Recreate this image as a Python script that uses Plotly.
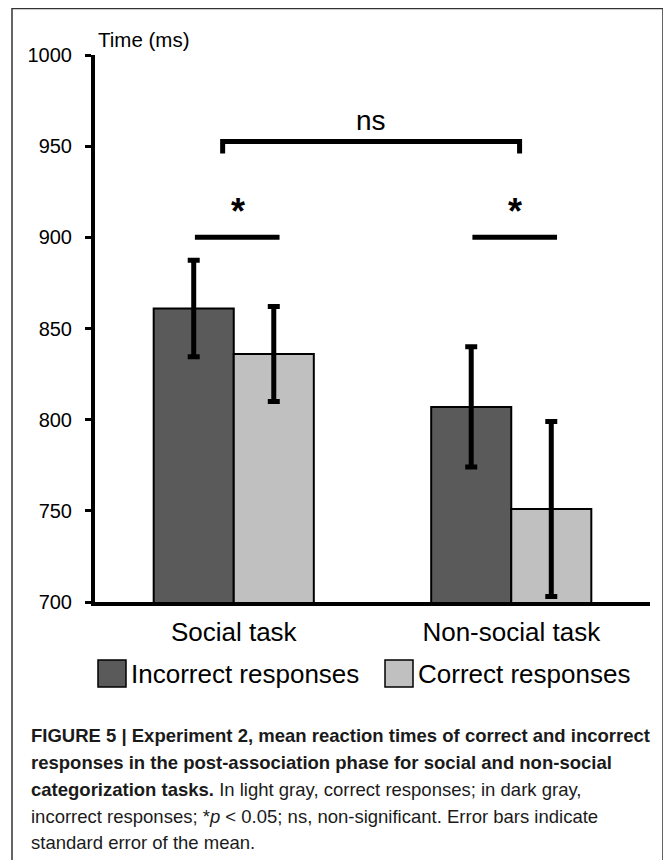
import plotly.graph_objects as go

# ---- data ----
categories = ["Social task", "Non-social task"]
series_names = ["Incorrect responses", "Correct responses"]
incorrect_means = [861, 807]
incorrect_sem = [26.5, 33]
correct_means = [836, 751]
correct_sem = [26, 48]
y_ticks = [700, 750, 800, 850, 900, 950, 1000]
y_title = "Time (ms)"
sig_pairs_labels = ["*", "*"]
ns_label = "ns"

caption_lines = [
    "<b>FIGURE 5 | Experiment 2, mean reaction times of correct and incorrect</b>",
    "<b>responses in the post-association phase for social and non-social</b>",
    "<b>categorization tasks.</b> In light gray, correct responses; in dark gray,",
    "incorrect responses; *<i>p</i> &lt; 0.05; ns, non-significant. Error bars indicate",
    "standard error of the mean.",
]

DARK = "#5a5a5a"
LIGHT = "#c0c0c0"

# page body has an 8px margin -> work in reference pixels and shift
OFF = 8
W, H = 671 - OFF, 860 - OFF
ML = 95 - OFF
MT = 55 - OFF
MR = W - (650 - OFF)
MB = H - (602 - OFF)
PW, PH = W - ML - MR, H - MT - MB


def px_x(px):
    return (px - OFF - ML) / PW


def px_y(py):
    return (H - MB - (py - OFF)) / PH


FONT = "Liberation Sans, Arial, sans-serif"

fig = go.Figure()
fig.add_trace(go.Bar(
    x=categories, y=incorrect_means, name=series_names[0],
    marker=dict(color=DARK, line=dict(color="black", width=2)),
    error_y=dict(type="data", array=incorrect_sem, color="black", thickness=5, width=6),
    showlegend=False,
))
fig.add_trace(go.Bar(
    x=categories, y=correct_means, name=series_names[1],
    marker=dict(color=LIGHT, line=dict(color="black", width=2)),
    error_y=dict(type="data", array=correct_sem, color="black", thickness=5, width=6),
    showlegend=False,
))

shapes = []
annotations = []

# significance lines (data coords: category index)
LINE_W = 5
for c in (0, 1):
    shapes.append(dict(type="line", xref="x", yref="y", x0=c - 0.14, x1=c + 0.165,
                       y0=900, y1=900, line=dict(color="black", width=LINE_W)))
    annotations.append(dict(x=c + 0.015, y=900, xref="x", yref="y", text="<b>%s</b>" % sig_pairs_labels[c],
                            showarrow=False, yanchor="bottom", yshift=3,
                            font=dict(family=FONT, size=36, color="black")))

# ns bracket
shapes.append(dict(type="path", xref="x", yref="y",
                   path="M -0.04,946 L -0.04,952.5 L 1.03,952.5 L 1.03,946",
                   line=dict(color="black", width=LINE_W)))
annotations.append(dict(x=0.495, y=952.5, xref="x", yref="y", text=ns_label, showarrow=False,
                        yanchor="bottom", yshift=4, font=dict(family=FONT, size=28, color="black")))

# y-axis title
annotations.append(dict(x=px_x(96), y=px_y(39), xref="paper", yref="paper", text=y_title,
                        showarrow=False, xanchor="left", yanchor="middle",
                        font=dict(family=FONT, size=20.5, color="black")))

# manual legend
leg_items = [(98, DARK, series_names[0]), (385, LIGHT, series_names[1])]
for x0, col, name in leg_items:
    shapes.append(dict(type="rect", xref="paper", yref="paper",
                       x0=px_x(x0), x1=px_x(x0 + 28), y0=px_y(660), y1=px_y(687),
                       fillcolor=col, line=dict(color="black", width=1.5)))
    annotations.append(dict(x=px_x(x0 + 31), y=px_y(674), xref="paper", yref="paper", text=name,
                            showarrow=False, xanchor="left", yanchor="middle",
                            font=dict(family=FONT, size=26, color="black")))

# caption
cap_y = [735, 762, 789, 816, 843]
for line, yy in zip(caption_lines, cap_y):
    annotations.append(dict(x=px_x(29), y=px_y(yy), xref="paper", yref="paper", text=line,
                            showarrow=False, xanchor="left", yanchor="middle",
                            font=dict(family=FONT, size=18.5, color="#1a1a1a")))

# frame
shapes.append(dict(type="path", xref="paper", yref="paper",
                   path="M %f,%f L %f,%f L %f,%f L %f,%f" % (
                       px_x(12), px_y(875), px_x(12), px_y(8.5), px_x(663), px_y(8.5), px_x(663), px_y(875)),
                   line=dict(color="#333333", width=1.5)))

fig.update_layout(
    width=W, height=H,
    margin=dict(l=ML, r=MR, t=MT, b=MB),
    paper_bgcolor="white", plot_bgcolor="white",
    barmode="group", bargap=0.423, bargroupgap=0,
    font=dict(family=FONT, color="black"),
    shapes=shapes, annotations=annotations,
    xaxis=dict(range=[-0.5, 1.5], showline=True, linecolor="black", linewidth=4,
               ticks="", showgrid=False, zeroline=False,
               tickfont=dict(family=FONT, size=26, color="black"), ticklabelstandoff=4),
    yaxis=dict(range=[700, 1000], tickvals=y_ticks, showline=True, linecolor="black", linewidth=4,
               ticks="outside", ticklen=6, tickwidth=3, tickcolor="black",
               showgrid=False, zeroline=False,
               tickfont=dict(family=FONT, size=20, color="black"), ticklabelstandoff=9),
)

fig.write_html("out.html")
